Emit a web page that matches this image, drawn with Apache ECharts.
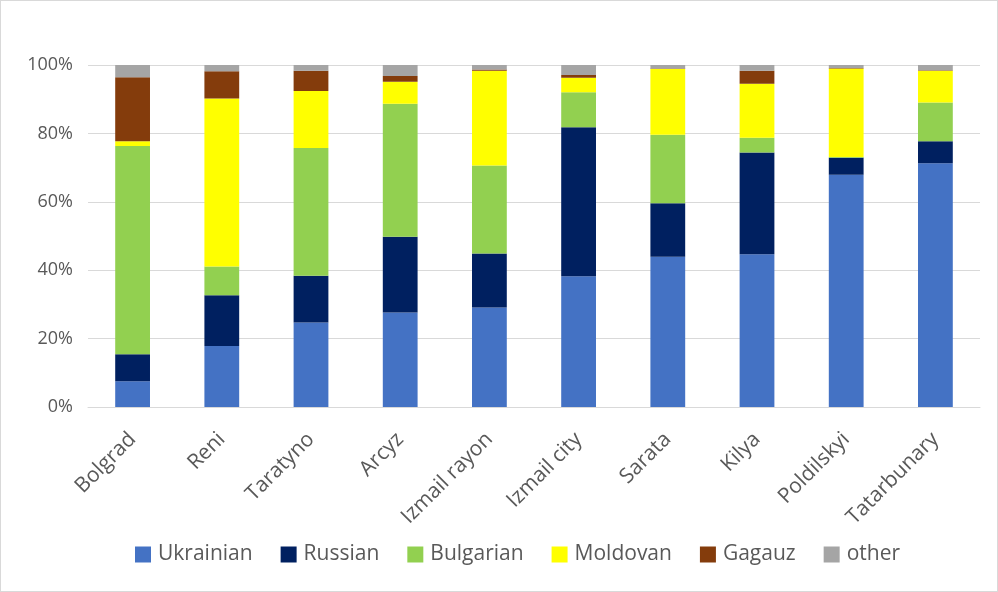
<!DOCTYPE html>
<html>
<head>
<meta charset="utf-8">
<script src="https://cdn.jsdelivr.net/npm/echarts@6/dist/echarts.min.js"></script>
<style>
  html, body { margin: 0; padding: 0; background: #fff; }
  #chart { width: 996px; height: 590px; border: 1px solid #d9d9d9; }
</style>
</head>
<body>
<div id="chart"></div>
<script>
// Ethnic composition by district (share of population, %)
const districts = ['Bolgrad', 'Reni', 'Taratyno', 'Arcyz', 'Izmail rayon', 'Izmail city', 'Sarata', 'Kilya', 'Poldilskyi', 'Tatarbunary'];
const ukrainian = [7.5, 17.8, 24.7, 27.6, 29.1, 38.2, 43.9, 44.7, 67.9, 71.3];
const russian   = [7.9, 14.9, 13.7, 22.2, 15.8, 43.6, 15.7, 29.7, 5.0, 6.4];
const bulgarian = [60.9, 8.4, 37.3, 38.9, 25.7, 10.2, 20.0, 4.3, 0.2, 11.3];
const moldovan  = [1.4, 49.1, 16.7, 6.4, 27.7, 4.3, 19.2, 15.8, 25.9, 9.3];
const gagauz    = [18.7, 8.0, 5.9, 1.7, 0.4, 0.8, 0.2, 3.8, 0.1, 0.2];
const other     = [3.6, 1.8, 1.7, 3.2, 1.3, 2.9, 1.0, 1.7, 0.9, 1.5];
const yTicks = ['0%', '20%', '40%', '60%', '80%', '100%'];

const groups = [
  { name: 'Ukrainian', data: ukrainian, color: '#4472C4' },
  { name: 'Russian',   data: russian,   color: '#002060' },
  { name: 'Bulgarian', data: bulgarian, color: '#92D050' },
  { name: 'Moldovan',  data: moldovan,  color: '#FFFF00' },
  { name: 'Gagauz',    data: gagauz,    color: '#843C0C' },
  { name: 'other',     data: other,     color: '#A5A5A5' }
];

const font = '"Open Sans", "Liberation Sans", sans-serif';
const chart = echarts.init(document.getElementById('chart'), null, { renderer: 'canvas' });

chart.setOption({
  animation: false,
  textStyle: { fontFamily: font },
  grid: { left: 87, right: 17, top: 64, bottom: 184, containLabel: false },
  legend: {
    bottom: 21,
    left: 129,
    itemWidth: 16,
    itemHeight: 16,
    itemGap: 28,
    icon: 'rect',
    textStyle: { fontFamily: font, fontSize: 21, color: '#595959', padding: [0, 0, 0, 2] },
    data: groups.map(g => g.name)
  },
  xAxis: {
    type: 'category',
    data: districts,
    axisLine: { lineStyle: { color: '#d9d9d9' } },
    axisTick: { show: false },
    axisLabel: {
      rotate: 45,
      interval: 0,
      margin: 29,
      color: '#595959',
      fontSize: 21,
      fontFamily: font
    }
  },
  yAxis: {
    type: 'value',
    min: 0,
    max: 100,
    interval: 20,
    axisLine: { show: false },
    axisTick: { show: false },
    splitLine: { lineStyle: { color: '#d9d9d9', width: 1 } },
    axisLabel: {
      margin: 15,
      color: '#595959',
      fontSize: 18,
      fontFamily: font,
      formatter: v => yTicks[Math.round(v / 20)]
    }
  },
  series: groups.map(g => ({
    name: g.name,
    type: 'bar',
    stack: 'total',
    barWidth: '39%',
    data: g.data,
    itemStyle: { color: g.color }
  }))
});
</script>
</body>
</html>
